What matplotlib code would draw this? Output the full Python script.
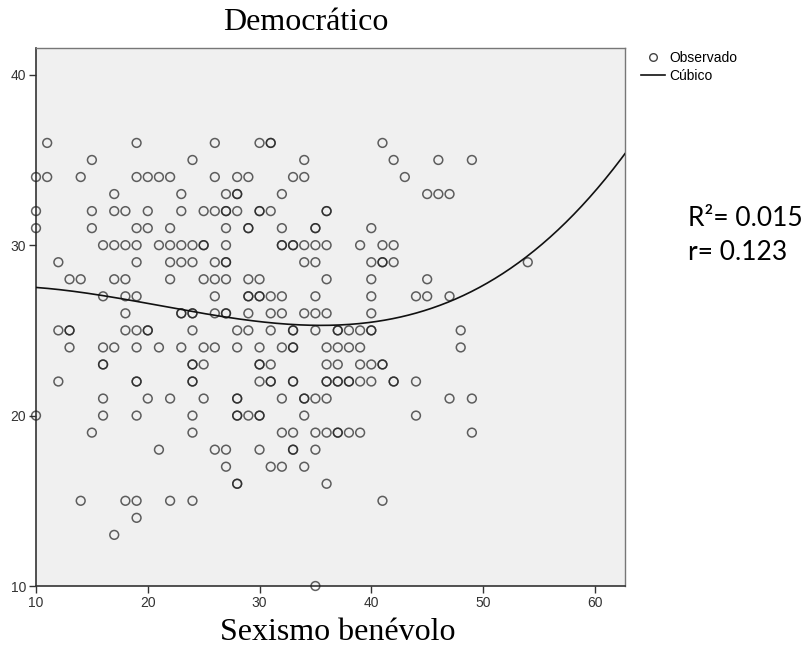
import numpy as np
import matplotlib.pyplot as plt
from matplotlib.lines import Line2D

# Democrático score (y) for each row of points
dem_levels = [36, 35, 34, 33, 32, 31, 30, 29, 28, 27, 26, 25, 24,
              23, 22, 21, 20, 19, 18, 17, 16, 15, 14, 13, 10]

# Sexismo benévolo scores (x) observed at each level, repeats = overlapping points
sb_values = [
    [11, 19, 26, 30, 31, 31, 41],
    [15, 24, 34, 42, 46, 49],
    [10, 11, 14, 19, 20, 21, 22, 26, 28, 29, 33, 34, 43],
    [17, 23, 27, 28, 28, 32, 45, 46, 47],
    [10, 15, 17, 18, 20, 23, 25, 26, 27, 27, 28, 30, 30, 31, 36, 36],
    [10, 15, 19, 20, 22, 27, 29, 29, 32, 35, 35, 40],
    [16, 17, 18, 19, 21, 22, 23, 24, 25, 25, 27, 32, 32, 33, 33, 34, 35, 36, 39, 41, 42],
    [12, 19, 22, 23, 24, 26, 27, 27, 34, 35, 40, 41, 41, 42, 54],
    [13, 14, 17, 18, 22, 25, 26, 27, 29, 30, 36, 40, 45],
    [16, 18, 19, 26, 29, 29, 30, 30, 31, 32, 35, 40, 44, 45, 47],
    [18, 23, 23, 24, 24, 26, 27, 27, 29, 31, 32, 34, 35, 36, 40],
    [12, 13, 13, 18, 19, 20, 20, 24, 28, 29, 31, 33, 33, 35, 37, 37, 38, 39, 40, 40, 48],
    [13, 16, 17, 19, 21, 23, 25, 26, 28, 30, 32, 33, 33, 36, 37, 38, 39, 48],
    [16, 16, 24, 24, 25, 30, 30, 31, 36, 37, 39, 40, 41, 41],
    [12, 19, 19, 24, 24, 30, 31, 31, 33, 33, 36, 36, 37, 37, 38, 38, 39, 40, 42, 42, 44],
    [16, 20, 22, 25, 28, 28, 32, 34, 34, 35, 36, 47, 49],
    [10, 16, 19, 24, 28, 28, 29, 30, 30, 34, 44],
    [15, 24, 32, 33, 35, 36, 37, 37, 38, 39, 49],
    [21, 26, 27, 30, 33, 33, 35],
    [27, 31, 32, 34],
    [28, 28, 36],
    [14, 18, 19, 22, 24, 41],
    [19],
    [17],
    [35],
]

r2_text = "R\u00b2= 0.015"
r_text = "r= 0.123"

x = []
y = []
for lev, vals in zip(dem_levels, sb_values):
    for v in vals:
        x.append(v)
        y.append(lev)
x = np.array(x, dtype=float)
y = np.array(y, dtype=float)

# cubic model fitted on the observations
coefs = np.polyfit(x, y, 3)
xlim = (10, 62.7)
xs = np.linspace(xlim[0], xlim[1], 300)
ys = np.polyval(coefs, xs)

W, H = 806, 657
fig = plt.figure(figsize=(W / 100, H / 100), dpi=100)
ax = fig.add_axes([36 / W, (H - 586) / H, (625 - 36) / W, (586 - 47.5) / H])
ax.set_facecolor("#f0f0f0")

ax.scatter(x, y, s=40, facecolors="none", edgecolors=(0.12, 0.12, 0.12, 0.7),
           linewidths=1.1, zorder=3, clip_on=False)
ax.plot(xs, ys, color="#111111", lw=1.2, zorder=4)

ax.set_xlim(*xlim)
ax.set_ylim(10, 41.6)
ax.set_xticks([10, 20, 30, 40, 50, 60])
ax.set_yticks([10, 20, 30, 40])
ax.tick_params(direction="out", length=5, width=1, color="#333333",
               labelsize=10, labelcolor="#333333", pad=2)
for lab in ax.get_xticklabels() + ax.get_yticklabels():
    lab.set_family("Liberation Sans")
for side in ["left", "bottom"]:
    ax.spines[side].set_color("#333333")
    ax.spines[side].set_linewidth(1.2)
for side in ["top", "right"]:
    ax.spines[side].set_color("#777777")
    ax.spines[side].set_linewidth(1.0)

fig.text(306 / W, 1 - 23 / H, "Democrático", ha="center", va="center",
         fontsize=23, family="Liberation Serif")
fig.text(338 / W, 1 - 632 / H, "Sexismo benévolo", ha="center", va="center",
         fontsize=23, family="Liberation Serif")

handles = [
    Line2D([], [], ls="none", marker="o", markersize=5.5, markerfacecolor="none",
           markeredgecolor="#444444", markeredgewidth=1),
    Line2D([], [], color="#111111", lw=1.2),
]
leg = fig.legend(handles, ["Observado", "Cúbico"], loc="upper left",
                 bbox_to_anchor=(641 / W, 1 - 51 / H), frameon=False,
                 prop={"family": "Liberation Sans", "size": 10},
                 handlelength=1.7, handletextpad=0.35, labelspacing=0.3,
                 borderpad=0, borderaxespad=0)

fig.text(688 / W, 1 - 218 / H, r2_text, ha="left", va="center",
         fontsize=19, family="Lato")
fig.text(688 / W, 1 - 252 / H, r_text, ha="left", va="center",
         fontsize=19, family="Lato")

fig.savefig("out.png", dpi=100)
